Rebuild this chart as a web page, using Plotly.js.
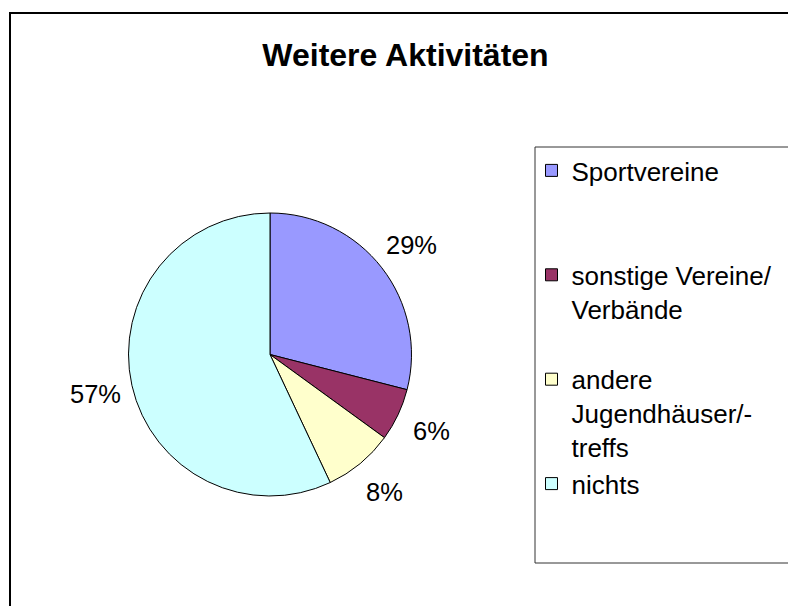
<!DOCTYPE html>
<html>
<head>
<meta charset="utf-8">
<script src="https://cdn.plot.ly/plotly-3.0.1.min.js"></script>
<style>
  body { margin: 0; background: #fff; }
  #chart { width: 788px; height: 606px; }
</style>
</head>
<body>
<div id="chart"></div>
<script>
// categories and shares
var labels = ["Sportvereine", "sonstige Vereine/ Verbände", "andere Jugendhäuser/-treffs", "nichts"];
var legendText = ["Sportvereine<br>\u00a0<br>\u00a0", "sonstige Vereine/<br>Verbände<br>\u00a0", "andere<br>Jugendhäuser/-<br>treffs", "nichts"];
var values = [29, 6, 8, 57];
var colors = ["#9999FF", "#993366", "#FFFFCC", "#CCFFFF"];

var fontFam = "Arial, 'Liberation Sans', sans-serif";

var W = 788, H = 606;
// pie centre and radius in px
var cx = 270, cy = 354.5, r = 141.5;
var labelR = 179; // distance of the % labels from the centre

var trace = {
  type: "pie",
  labels: legendText,
  values: values,
  sort: false,
  direction: "clockwise",
  rotation: 0,
  marker: { colors: colors, line: { color: "#000", width: 1 } },
  textinfo: "none",
  hoverinfo: "label+percent",
  domain: {
    x: [(cx - r) / W, (cx + r) / W],
    y: [(H - cy - r) / H, (H - cy + r) / H]
  }
};

// percent labels like Excel: placed around the pie at each slice's mid angle
var total = values.reduce(function (a, b) { return a + b; }, 0);
var annotations = [];
var cum = 0;
values.forEach(function (v) {
  var mid = (cum + v / 2) / total * 2 * Math.PI;
  cum += v;
  var px = cx + labelR * Math.sin(mid);
  var py = cy - labelR * Math.cos(mid);
  annotations.push({
    xref: "paper", yref: "paper",
    x: px / W, y: 1 - py / H,
    xanchor: "center", yanchor: "middle",
    text: Math.round(v / total * 100) + "%",
    showarrow: false,
    font: { family: fontFam, size: 25.5, color: "#000" }
  });
});

var layout = {
  width: W,
  height: H,
  margin: { l: 0, r: 0, t: 0, b: 0 },
  paper_bgcolor: "#fff",
  font: { family: fontFam, color: "#000" },
  title: {
    text: "Weitere Aktivitäten",
    font: { family: fontFam, size: 32, weight: "bold", color: "#000" },
    x: 405.5 / W,
    xanchor: "center",
    y: 1 - 55 / H,
    yanchor: "middle"
  },
  showlegend: true,
  legend: {
    x: 531.5 / W,
    xanchor: "left",
    y: 1 - 147 / H,
    yanchor: "top",
    valign: "top",
    bgcolor: "rgba(0,0,0,0)",
    borderwidth: 0,
    font: { family: fontFam, size: 26, color: "#000" }
  },
  annotations: annotations,
  shapes: [
    // outer chart frame (runs off the right and bottom edge)
    { type: "rect", xref: "paper", yref: "paper",
      x0: 10 / W, x1: 1.05, y0: -0.05, y1: 1 - 13 / H,
      line: { color: "#000", width: 2 } },
    // legend box
    { type: "rect", xref: "paper", yref: "paper",
      x0: 535 / W, x1: 1.05, y0: 1 - 563 / H, y1: 1 - 147 / H,
      line: { color: "#333", width: 1 } }
  ]
};

Plotly.newPlot("chart", [trace], layout, { displayModeBar: false, staticPlot: true });
</script>
</body>
</html>
